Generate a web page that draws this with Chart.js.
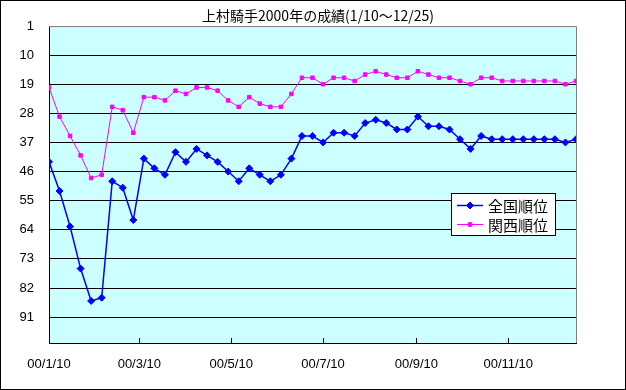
<!DOCTYPE html>
<html>
<head>
<meta charset="utf-8">
<script src="https://cdn.jsdelivr.net/npm/chart.js@4.4.1/dist/chart.umd.min.js"></script>
<style>
  html, body { margin: 0; padding: 0; background: #fff; }
</style>
</head>
<body>
<canvas id="rankChart" width="626" height="390"></canvas>
<script>
const chartTitle = "上村騎手2000年の成績(1/10～12/25)";
const raceYear = 2000;

// weekly dates (month/day)
const weekDates = [
    "1/10", "1/17", "1/24", "1/31", "2/7", "2/14", "2/21", "2/28",
    "3/6", "3/13", "3/20", "3/27", "4/3", "4/10", "4/17", "4/24",
    "5/1", "5/8", "5/15", "5/22", "5/29", "6/5", "6/12", "6/19", "6/26",
    "7/3", "7/10", "7/17", "7/24", "7/31", "8/7", "8/14", "8/21", "8/28",
    "9/4", "9/11", "9/18", "9/25", "10/2", "10/9", "10/16", "10/23", "10/30",
    "11/6", "11/13", "11/20", "11/27", "12/4", "12/11", "12/18", "12/25"
];

const nationalRank = [
    43, 52, 63, 76, 86, 85, 49, 51, 61, 42, 45, 47, 40, 43, 39, 41, 43,
    46, 49, 45, 47, 49, 47, 42, 35, 35, 37, 34, 34, 35, 31, 30, 31, 33,
    33, 29, 32, 32, 33, 36, 39, 35, 36, 36, 36, 36, 36, 36, 36, 37, 36
];

const kansaiRank = [
    20, 29, 35, 41, 48, 47, 26, 27, 34, 23, 23, 24, 21, 22, 20, 20, 21,
    24, 26, 23, 25, 26, 26, 22, 17, 17, 19, 17, 17, 18, 16, 15, 16, 17,
    17, 15, 16, 17, 17, 18, 19, 17, 17, 18, 18, 18, 18, 18, 18, 19, 18
];

const seriesNames = ["全国順位", "関西順位"];
const yTicks = [1, 10, 19, 28, 37, 46, 55, 64, 73, 82, 91];
const xTickDates = ["1/10", "3/10", "5/10", "7/10", "9/10", "11/10"];
const xTickLabels = ["00/1/10", "00/3/10", "00/5/10", "00/7/10", "00/9/10", "00/11/10"];

function dayOf(md) {
    const [m, d] = md.split("/").map(Number);
    return (Date.UTC(raceYear, m - 1, d) - Date.UTC(raceYear, 0, 10)) / 86400000;
}

const xTickDays = xTickDates.map(dayOf);

function toPoints(values) {
    return values.map((v, i) => ({ x: dayOf(weekDates[i]), y: v }));
}

// background, plot fill, frame and inside tick marks
const framePlugin = {
    id: "frame",
    beforeDraw(chart) {
        const { ctx, chartArea: a } = chart;
        ctx.save();
        ctx.fillStyle = "#ffffff";
        ctx.fillRect(0, 0, chart.width, chart.height);
        ctx.strokeStyle = "#000000";
        ctx.lineWidth = 1;
        ctx.strokeRect(0.5, 0.5, chart.width - 1, chart.height - 1);
        ctx.fillStyle = "#ccffff";
        ctx.fillRect(a.left, a.top, a.right - a.left, a.bottom - a.top);
        ctx.restore();
    },
    beforeDatasetsDraw(chart) {
        const { ctx, chartArea: a, scales } = chart;
        ctx.save();
        ctx.strokeStyle = "#808080";
        ctx.lineWidth = 1;
        ctx.beginPath();
        ctx.moveTo(a.left, a.top + 0.5);
        ctx.lineTo(a.right + 0.5, a.top + 0.5);
        ctx.lineTo(a.right + 0.5, a.bottom);
        ctx.stroke();
        ctx.strokeStyle = "#000000";
        ctx.beginPath();
        scales.x.ticks.forEach(t => {
            const px = Math.round(scales.x.getPixelForValue(t.value)) + 0.5;
            ctx.moveTo(px, a.bottom);
            ctx.lineTo(px, a.bottom - 5);
        });
        ctx.stroke();
        ctx.restore();
    }
};

// legend box placed inside the plot area
const boxLegend = {
    id: "boxLegend",
    afterDraw(chart) {
        const { ctx } = chart;
        const x = 451, y = 193, w = 104, h = 42;
        ctx.save();
        ctx.fillStyle = "#ffffff";
        ctx.fillRect(x, y, w, h);
        ctx.strokeStyle = "#000000";
        ctx.lineWidth = 1;
        ctx.strokeRect(x + 0.5, y + 0.5, w, h);
        ctx.font = "15px 'Noto Sans CJK JP'";
        ctx.textBaseline = "middle";
        chart.data.datasets.forEach((ds, i) => {
            const cy = y + 12 + i * 19;
            ctx.strokeStyle = ds.borderColor;
            ctx.lineWidth = ds.borderWidth;
            ctx.beginPath();
            ctx.moveTo(x + 6, cy + 0.5);
            ctx.lineTo(x + 32, cy + 0.5);
            ctx.stroke();
            ctx.fillStyle = ds.pointBackgroundColor;
            ctx.lineWidth = 1;
            Chart.helpers.drawPoint(ctx, {
                pointStyle: ds.pointStyle,
                radius: ds.pointRadius,
                rotation: 0,
                borderWidth: ds.pointBorderWidth
            }, x + 19, cy + 0.5);
            ctx.fillStyle = "#000000";
            ctx.fillText(ds.label, x + 37, cy + 1);
        });
        ctx.restore();
    }
};

const chart = new Chart(document.getElementById("rankChart"), {
    type: "line",
    data: {
        datasets: [
            {
                label: seriesNames[0],
                data: toPoints(nationalRank),
                borderColor: "#0000ff",
                backgroundColor: "#0000ff",
                pointBackgroundColor: "#0000ff",
                pointBorderColor: "#0000ff",
                borderWidth: 1.5,
                pointStyle: "rectRot",
                pointRadius: 3.5,
                pointBorderWidth: 1,
                tension: 0
            },
            {
                label: seriesNames[1],
                data: toPoints(kansaiRank),
                borderColor: "#ff00ff",
                backgroundColor: "#ff00ff",
                pointBackgroundColor: "#ff00ff",
                pointBorderColor: "#ff00ff",
                borderWidth: 1,
                pointStyle: "rect",
                pointRadius: 2.5,
                pointBorderWidth: 1,
                tension: 0
            }
        ]
    },
    options: {
        responsive: false,
        animation: false,
        layout: { padding: { left: 10, right: 0, top: 0, bottom: 0 } },
        plugins: {
            legend: { display: false },
            tooltip: { enabled: false },
            title: {
                display: true,
                text: chartTitle,
                color: "#000000",
                font: { family: "'Noto Sans CJK JP'", size: 14, weight: "normal" },
                padding: { top: 7, bottom: 2.2 }
            }
        },
        scales: {
            x: {
                type: "linear",
                min: 0,
                max: dayOf(weekDates[weekDates.length - 1]),
                afterBuildTicks: scale => {
                    scale.ticks = xTickDays.map(v => ({ value: v }));
                },
                afterFit: scale => { scale.height = 47; },
                grid: { drawOnChartArea: false, drawTicks: false },
                border: { display: true, color: "#000000", width: 1 },
                ticks: {
                    color: "#000000",
                    padding: 14,
                    maxRotation: 0,
                    autoSkip: false,
                    font: { family: "'Liberation Sans'", size: 13 },
                    callback: value => xTickLabels[xTickDays.indexOf(value)]
                }
            },
            y: {
                type: "linear",
                reverse: true,
                min: 1,
                max: 99,
                afterBuildTicks: scale => {
                    scale.ticks = yTicks.map(v => ({ value: v }));
                },
                afterFit: scale => { scale.width = 39; },
                grid: {
                    drawTicks: false,
                    color: c => (c.tick && c.tick.value === 1 ? "#808080" : "#000000"),
                    lineWidth: 1
                },
                border: { display: true, color: "#000000", width: 1 },
                ticks: {
                    color: "#000000",
                    padding: 15,
                    autoSkip: false,
                    font: { family: "'Liberation Sans'", size: 13 }
                }
            },
            // empty right-hand axis that only reserves the margin right of the plot
            yRight: {
                type: "linear",
                position: "right",
                display: true,
                min: 1,
                max: 99,
                afterFit: scale => { scale.width = 50; },
                grid: { display: false, drawTicks: false },
                border: { display: false },
                ticks: { display: false }
            }
        }
    },
    plugins: [framePlugin, boxLegend]
});
</script>
</body>
</html>
